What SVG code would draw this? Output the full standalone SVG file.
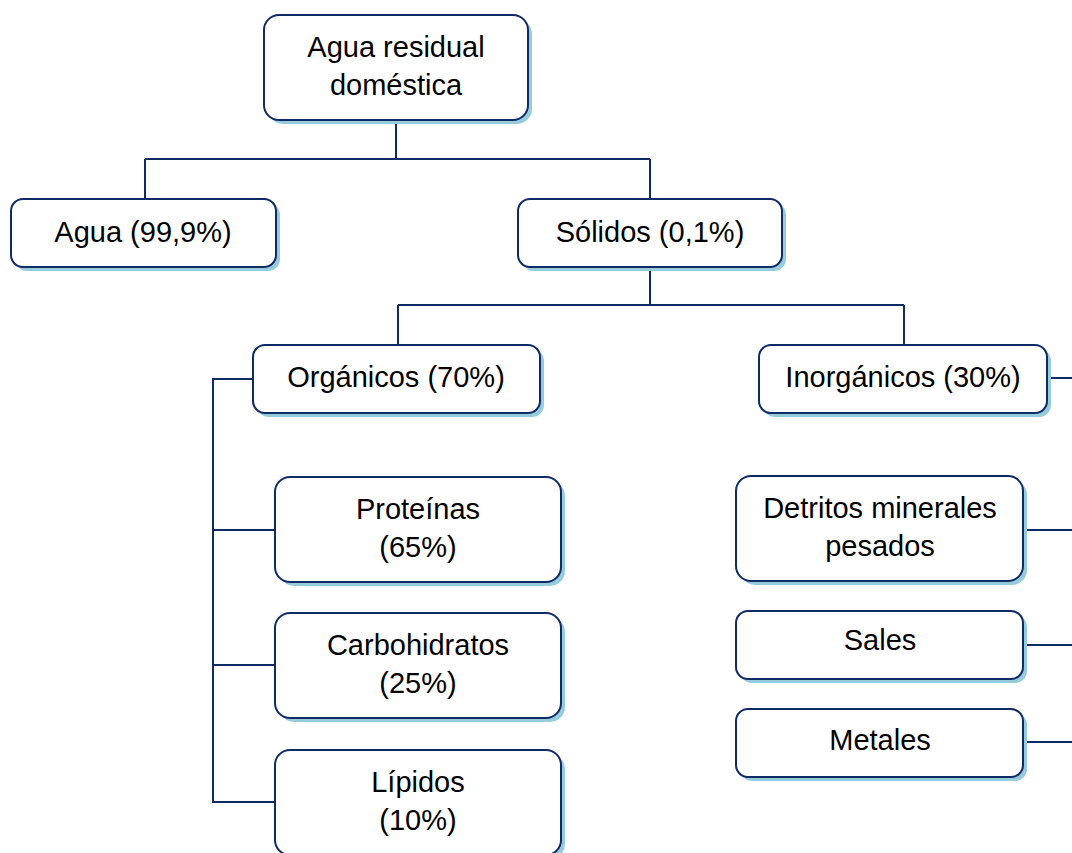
<svg xmlns="http://www.w3.org/2000/svg" width="1072" height="853" viewBox="0 0 1072 853">
<style>
.sh{fill:#96cbdc;stroke:none}
.bx{fill:#ffffff;stroke:#102a66;stroke-width:2}
.t{font-family:"Liberation Sans",Arial,sans-serif;font-size:29px;fill:#000;text-anchor:middle}
.c{fill:none;stroke:#102a66;stroke-width:2}
</style>
<rect width="1072" height="853" fill="#fff"/>
<g id="connectors">
<path class="c" d="M396,120V159M145,159H650M145,159V199M650,159V199"/>
<path class="c" d="M650,267V305M398,305H904M398,305V345M904,305V345"/>
<path class="c" d="M253,379H213V802H275M213,530H275M213,665H275"/>
<path class="c" d="M1047,378H1072M1023,530H1072M1023,645H1072M1023,742H1072"/>
</g>
<g id="n-top"><rect class="sh" x="268" y="19" width="264" height="105" rx="15"/><rect class="bx" x="264" y="15" width="264" height="105" rx="15"/><text class="t" x="396" y="57">Agua residual</text><text class="t" x="396" y="95">doméstica</text></g>
<g id="n-agua"><rect class="sh" x="15" y="203" width="265" height="68" rx="12"/><rect class="bx" x="11" y="199" width="265" height="68" rx="12"/><text class="t" x="143" y="242">Agua (99,9%)</text></g>
<g id="n-solidos"><rect class="sh" x="522" y="203" width="264" height="68" rx="12"/><rect class="bx" x="518" y="199" width="264" height="68" rx="12"/><text class="t" x="650" y="242">Sólidos (0,1%)</text></g>
<g id="n-org"><rect class="sh" x="257" y="349" width="287" height="68" rx="12"/><rect class="bx" x="253" y="345" width="287" height="68" rx="12"/><text class="t" x="396" y="387">Orgánicos (70%)</text></g>
<g id="n-inorg"><rect class="sh" x="763" y="349" width="288" height="68" rx="12"/><rect class="bx" x="759" y="345" width="288" height="68" rx="12"/><text class="t" x="903" y="387">Inorgánicos (30%)</text></g>
<g id="n-prot"><rect class="sh" x="279" y="481" width="286" height="105" rx="15"/><rect class="bx" x="275" y="477" width="286" height="105" rx="15"/><text class="t" x="418" y="519">Proteínas</text><text class="t" x="418" y="557">(65%)</text></g>
<g id="n-carb"><rect class="sh" x="279" y="617" width="286" height="105" rx="15"/><rect class="bx" x="275" y="613" width="286" height="105" rx="15"/><text class="t" x="418" y="655">Carbohidratos</text><text class="t" x="418" y="693">(25%)</text></g>
<g id="n-lip"><rect class="sh" x="279" y="754" width="286" height="105" rx="15"/><rect class="bx" x="275" y="750" width="286" height="105" rx="15"/><text class="t" x="418" y="792">Lípidos</text><text class="t" x="418" y="830">(10%)</text></g>
<g id="n-detr"><rect class="sh" x="740" y="480" width="287" height="105" rx="15"/><rect class="bx" x="736" y="476" width="287" height="105" rx="15"/><text class="t" x="880" y="518">Detritos minerales</text><text class="t" x="880" y="556">pesados</text></g>
<g id="n-sales"><rect class="sh" x="740" y="615" width="287" height="68" rx="12"/><rect class="bx" x="736" y="611" width="287" height="68" rx="12"/><text class="t" x="880" y="650">Sales</text></g>
<g id="n-met"><rect class="sh" x="740" y="713" width="287" height="68" rx="12"/><rect class="bx" x="736" y="709" width="287" height="68" rx="12"/><text class="t" x="880" y="750">Metales</text></g>
</svg>
